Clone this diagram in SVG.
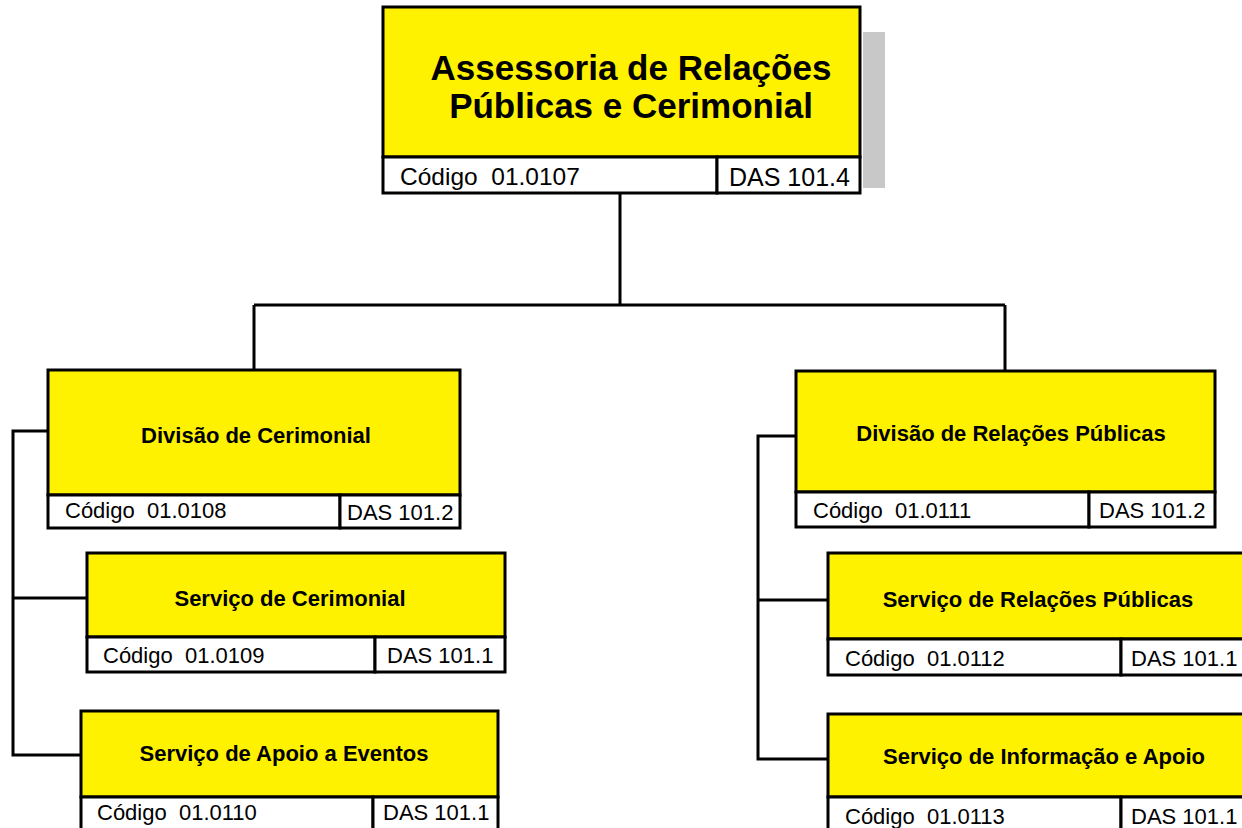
<svg xmlns="http://www.w3.org/2000/svg" width="1242" height="828" viewBox="0 0 1242 828">
<style>
.y{fill:#FFF200;stroke:#000;stroke-width:3}
.w{fill:#FFFFFF;stroke:#000;stroke-width:3}
.c{fill:none;stroke:#000;stroke-width:3}
.t{font-family:"Liberation Sans",Arial,sans-serif;font-weight:bold;fill:#000;text-anchor:middle}
.s{font-family:"Liberation Sans",Arial,sans-serif;fill:#000}
</style>
<rect width="1242" height="828" fill="#FFFFFF"/>
<g id="connectors">
<path class="c" d="M620,194 V305 M254,305 H1005 M254,305 V371 M1005,305 V371"/>
<path class="c" d="M48,431 H13 V755 H81 M13,598 H87"/>
<path class="c" d="M796,436 H758 V759 H828 M758,600 H828"/>
</g>
<g id="n-assessoria">
<rect x="863" y="32" width="22" height="156" fill="#C8C8C8"/>
<rect class="y" x="383" y="7" width="477" height="150"/>
<rect class="w" x="383" y="157" width="334" height="36"/>
<rect class="w" x="717" y="157" width="143" height="36"/>
<text class="t" x="631" y="80" font-size="35">Assessoria de Relações</text>
<text class="t" x="631" y="118" font-size="35">Públicas e Cerimonial</text>
<text class="s" x="400" y="185" font-size="24.5" xml:space="preserve">Código  01.0107</text>
<text class="s" x="729" y="186" font-size="25">DAS 101.4</text>
</g>
<g id="n-div-cerimonial">
<rect class="y" x="48" y="370" width="412" height="125"/>
<rect class="w" x="48" y="495" width="292" height="33"/>
<rect class="w" x="340" y="495" width="120" height="33"/>
<text class="t" x="256" y="443" font-size="22">Divisão de Cerimonial</text>
<text class="s" x="65" y="518" font-size="22" xml:space="preserve">Código  01.0108</text>
<text class="s" x="347" y="520" font-size="22">DAS 101.2</text>
</g>
<g id="n-serv-cerimonial">
<rect class="y" x="87" y="553" width="418" height="84"/>
<rect class="w" x="87" y="637" width="288" height="35"/>
<rect class="w" x="375" y="637" width="130" height="35"/>
<text class="t" x="290" y="606" font-size="22">Serviço de Cerimonial</text>
<text class="s" x="103" y="663" font-size="22" xml:space="preserve">Código  01.0109</text>
<text class="s" x="387" y="663" font-size="22">DAS 101.1</text>
</g>
<g id="n-serv-eventos">
<rect class="y" x="81" y="711" width="417" height="86"/>
<rect class="w" x="81" y="797" width="292" height="40"/>
<rect class="w" x="373" y="797" width="125" height="40"/>
<text class="t" x="284" y="761" font-size="22">Serviço de Apoio a Eventos</text>
<text class="s" x="97" y="820" font-size="22" xml:space="preserve">Código  01.0110</text>
<text class="s" x="383" y="820" font-size="22">DAS 101.1</text>
</g>
<g id="n-div-rp">
<rect class="y" x="796" y="371" width="419" height="121"/>
<rect class="w" x="796" y="492" width="293" height="35"/>
<rect class="w" x="1089" y="492" width="126" height="35"/>
<text class="t" x="1011" y="441" font-size="22">Divisão de Relações Públicas</text>
<text class="s" x="813" y="518" font-size="22" xml:space="preserve">Código  01.0111</text>
<text class="s" x="1099" y="518" font-size="22">DAS 101.2</text>
</g>
<g id="n-serv-rp">
<rect class="y" x="828" y="553" width="430" height="86"/>
<rect class="w" x="828" y="639" width="293" height="36"/>
<rect class="w" x="1121" y="639" width="137" height="36"/>
<text class="t" x="1038" y="607" font-size="22">Serviço de Relações Públicas</text>
<text class="s" x="845" y="666" font-size="22" xml:space="preserve">Código  01.0112</text>
<text class="s" x="1131" y="666" font-size="22">DAS 101.1</text>
</g>
<g id="n-serv-info">
<rect class="y" x="828" y="714" width="430" height="83"/>
<rect class="w" x="828" y="797" width="293" height="40"/>
<rect class="w" x="1121" y="797" width="137" height="40"/>
<text class="t" x="1044" y="764" font-size="22">Serviço de Informação e Apoio</text>
<text class="s" x="845" y="824" font-size="22" xml:space="preserve">Código  01.0113</text>
<text class="s" x="1131" y="824" font-size="22">DAS 101.1</text>
</g>
</svg>
